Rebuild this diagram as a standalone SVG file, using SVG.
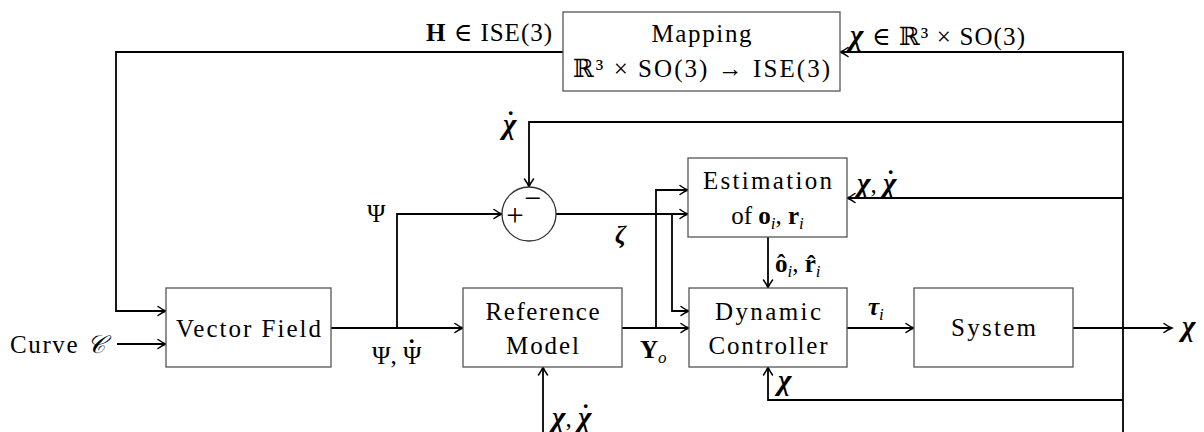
<svg xmlns="http://www.w3.org/2000/svg" width="1204" height="432" viewBox="0 0 1204 432">
<defs>
<marker id="arr" viewBox="-10 -6 12 12" refX="0" refY="0" markerWidth="12" markerHeight="12" orient="auto" markerUnits="userSpaceOnUse">
<path d="M -8 -4.5 Q -3.5 -1.2 0 0 Q -3.5 1.2 -8 4.5" fill="none" stroke="#000" stroke-width="1.5" stroke-linecap="round"/>
</marker>
</defs>
<style>
.box{fill:#fff;stroke:#555;stroke-width:1.3}
.c{fill:none;stroke:#000;stroke-width:1.8}
.a{marker-end:url(#arr)}
text{font-family:'Liberation Serif','DejaVu Serif',serif;font-size:25px;fill:#000}
.m{text-anchor:middle}
.e{text-anchor:end}
.b{font-weight:bold}
.bi{font-weight:bold;font-style:italic}
.chi{font-weight:bold;font-style:italic;font-size:29px}
.it{font-style:italic}
.sub{font-size:17px;font-style:italic}
.dot{font-size:25px;font-weight:bold;font-style:normal}
</style>
<rect width="1204" height="432" fill="#fff"/>

<g id="connectors">
<path class="c a" d="M563,52 H116 V311 H166"/>
<path class="c a" d="M117,344 H166"/>
<path class="c a" d="M331,328 H463"/>
<path class="c a" d="M397,328 V214 H502"/>
<path class="c a" d="M556,214 H688"/>
<path class="c a" d="M622,328 H689"/>
<path class="c a" d="M656,328 V190 H688"/>
<path class="c a" d="M672,214 V311 H689"/>
<path class="c a" d="M768,237 V288"/>
<path class="c a" d="M847,328 H914"/>
<path class="c a" d="M1073,328 H1172"/>
<path class="c a" d="M543,432 V367"/>
<path class="c a" d="M1123,432 V52 H840"/>
<path class="c a" d="M1123,122 H529 V187"/>
<path class="c a" d="M1123,198 H847"/>
<path class="c a" d="M1123,400 H768 V367"/>
</g>

<g id="mapping">
<rect class="box" x="563" y="12" width="277" height="79"/>
<text class="m" x="701.5" y="42" textLength="100" lengthAdjust="spacing">Mapping</text>
<text class="m" x="701.5" y="77" textLength="257" lengthAdjust="spacing">ℝ³ × SO(3) → ISE(3)</text>
</g>
<g id="vector-field">
<rect class="box" x="166" y="288" width="165" height="79"/>
<text class="m" x="248.5" y="337" textLength="145" lengthAdjust="spacing">Vector Field</text>
</g>
<g id="reference-model">
<rect class="box" x="463" y="288" width="159" height="79"/>
<text class="m" x="542.5" y="320" textLength="114" lengthAdjust="spacing">Reference</text>
<text class="m" x="542.5" y="354" textLength="73" lengthAdjust="spacing">Model</text>
</g>
<g id="estimation">
<rect class="box" x="688" y="158" width="159" height="79"/>
<text class="m" x="767.5" y="189" textLength="129" lengthAdjust="spacing">Estimation</text>
<text class="m" x="767.5" y="224">of <tspan class="b">o</tspan><tspan class="sub" dy="5">i</tspan><tspan dy="-5">, </tspan><tspan class="b">r</tspan><tspan class="sub" dy="5">i</tspan></text>
</g>
<g id="dynamic-controller">
<rect class="box" x="689" y="288" width="158" height="79"/>
<text class="m" x="768" y="320" textLength="106" lengthAdjust="spacing">Dynamic</text>
<text class="m" x="768" y="354" textLength="119" lengthAdjust="spacing">Controller</text>
</g>
<g id="system">
<rect class="box" x="914" y="288" width="159" height="79"/>
<text class="m" x="993.5" y="336" textLength="85" lengthAdjust="spacing">System</text>
</g>
<g id="sum">
<circle cx="529" cy="214" r="27" fill="#fff" stroke="#333" stroke-width="1.3"/>
<text class="m" x="515" y="226" style="font-size:31px">+</text>
<text class="m" x="533" y="208" style="font-size:30px">−</text>
</g>

<g id="labels">
<text class="e" x="552" y="41" textLength="126" lengthAdjust="spacing"><tspan class="b">H</tspan> ∈ ISE(3)</text>
<text x="850" y="45" textLength="175" lengthAdjust="spacing"><tspan class="chi">χ</tspan> ∈ ℝ³ × SO(3)</text>
<text x="503" y="134"><tspan class="chi">χ</tspan><tspan class="dot" dx="-10" dy="-5">˙</tspan></text>
<text x="367" y="222">Ψ</text>
<text x="615" y="243" class="bi">ζ</text>
<text x="857" y="193"><tspan class="chi">χ</tspan>, <tspan class="chi">χ</tspan><tspan class="dot" dx="-10" dy="-5">˙</tspan></text>
<text x="775" y="272"><tspan class="b">ô</tspan><tspan class="sub" dy="5">i</tspan><tspan dy="-5">, </tspan><tspan class="b">r̂</tspan><tspan class="sub" dy="5">i</tspan></text>
<text x="372" y="364">Ψ, Ψ<tspan class="dot" dx="-14" dy="-7">˙</tspan></text>
<text x="640" y="358"><tspan class="b">Y</tspan><tspan class="sub" dy="5">o</tspan></text>
<text x="868" y="315"><tspan class="bi">τ</tspan><tspan class="sub" dy="5">i</tspan></text>
<text x="778" y="390" class="chi">χ</text>
<text x="552" y="427"><tspan class="chi">χ</tspan>, <tspan class="chi">χ</tspan><tspan class="dot" dx="-10" dy="-5">˙</tspan></text>
<text x="10" y="353" textLength="95" lengthAdjust="spacing">Curve <tspan class="it">𝒞</tspan></text>
<text x="1182" y="336" class="chi">χ</text>
</g>
</svg>
